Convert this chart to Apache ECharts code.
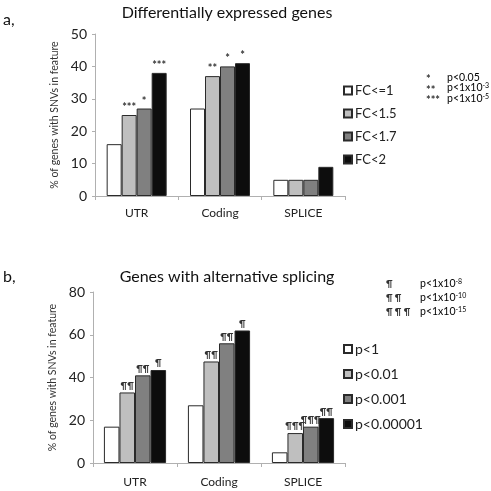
<!DOCTYPE html>
<html>
<head>
<meta charset="utf-8">
<script src="https://cdn.jsdelivr.net/npm/echarts@6/dist/echarts.min.js"></script>
<style>html,body{margin:0;padding:0;background:#fff}#c{width:491px;height:491px}</style>
</head>
<body>
<div id="c"></div>
<script>
// ---- data ----
const categories = ['UTR', 'Coding', 'SPLICE'];

const titleA = 'Differentially expressed genes';
const seriesNamesA = ['FC<=1', 'FC<1.5', 'FC<1.7', 'FC<2'];
const valuesA = [
  [16, 27, 5],
  [25, 37, 5],
  [27, 40, 5],
  [38, 41, 9]
];
const marksA = [
  ['', '', ''],
  ['***', '**', ''],
  ['*', '*', ''],
  ['***', '*', '']
];
const yTicksA = [0, 10, 20, 30, 40, 50];
const sigSymbolsA = ['*', '**', '***'];
const sigTextA = [['p<0.05', ''], ['p<1x10', '-3'], ['p<1x10', '-5']];

const titleB = 'Genes with alternative splicing';
const seriesNamesB = ['p<1', 'p<0.01', 'p<0.001', 'p<0.00001'];
const valuesB = [
  [17, 27, 5],
  [33, 47.5, 14],
  [41, 56, 17],
  [43.5, 62, 21]
];
const marksB = [
  ['', '', ''],
  ['¶¶', '¶¶', '¶¶¶'],
  ['¶¶', '¶¶', '¶¶¶'],
  ['¶', '¶', '¶¶']
];
const yTicksB = [0, 20, 40, 60, 80];
const sigSymbolsB = ['¶', '¶ ¶', '¶ ¶ ¶'];
const sigTextB = [['p<1x10', '-8'], ['p<1x10', '-10'], ['p<1x10', '-15']];

const yAxisName = '% of genes with SNVs in feature';
const colors = ['#ffffff', '#bfbfbf', '#808080', '#0d0d0d'];

// ---- chart ----
const FONT = 'Lato';
const chart = echarts.init(document.getElementById('c'), null, {renderer: 'canvas'});

function makeSeries(names, values, marks, idx, gap) {
  return names.map((n, i) => ({
    name: n,
    type: 'bar',
    xAxisIndex: idx,
    yAxisIndex: idx,
    barGap: '0%',
    barCategoryGap: gap,
    itemStyle: {color: colors[i], borderColor: '#2a2a2a', borderWidth: 1},
    label: {
      show: true,
      position: 'top',
      distance: 2,
      fontFamily: FONT,
      fontSize: idx === 0 ? 11 : 9,
      fontWeight: 'bold',
      color: '#333',
      formatter: p => marks[i][p.dataIndex]
    },
    emphasis: {disabled: true},
    data: values[i]
  }));
}

function xAx(idx) {
  return {
    type: 'category', gridIndex: idx, data: categories,
    axisLine: {lineStyle: {color: '#b0b0b0'}},
    axisTick: {show: true, length: 4, lineStyle: {color: '#b0b0b0'}},
    axisLabel: {fontFamily: FONT, fontSize: 12, color: '#222', margin: idx === 0 ? 11 : 13}
  };
}
function yAx(idx, ticks, gap) {
  return {
    type: 'value', gridIndex: idx, min: ticks[0], max: ticks[ticks.length - 1],
    interval: ticks[1] - ticks[0],
    name: yAxisName, nameLocation: 'middle', nameGap: gap, nameRotate: 90,
    nameTextStyle: {fontFamily: FONT, fontSize: 10.5, color: '#333'},
    splitLine: {show: false},
    axisLine: {show: true, lineStyle: {color: '#b0b0b0'}},
    axisTick: {show: true, length: 3, lineStyle: {color: '#b0b0b0'}},
    axisLabel: {fontFamily: FONT, fontSize: 14, color: '#222', margin: 8}
  };
}
function legend(names, top, gap, size) {
  return {
    data: names, orient: 'vertical', left: 338, top: top, itemGap: gap,
    itemWidth: 8, itemHeight: 8, icon: 'rect', selectedMode: false,
    textStyle: {fontFamily: FONT, fontSize: size, color: '#222', padding: [0, 0, 0, -2]}
  };
}
function sigGraphics(symbols, texts, x1, x2, y0, dy, bold, symSize) {
  const out = [];
  symbols.forEach((s, i) => {
    out.push({type: 'text', left: x1, top: y0 + i * dy,
      style: {text: s, font: (bold ? 'bold ' : '') + symSize + 'px ' + FONT, fill: '#333'}});
    out.push({type: 'text', left: x2, top: y0 + i * dy - 2,
      style: {
        text: '{a|' + texts[i][0] + '}{s|' + texts[i][1] + '}',
        rich: {
          a: {fontFamily: FONT, fontSize: 10.5, color: '#222', verticalAlign: 'top', lineHeight: 13},
          s: {fontFamily: FONT, fontSize: 7, color: '#222', verticalAlign: 'top', lineHeight: 7}
        }
      }});
  });
  return out;
}

const option = {
  backgroundColor: '#fff',
  animation: false,
  title: [
    {text: titleA, left: 222, top: 0, textAlign: 'center',
      textStyle: {fontFamily: FONT, fontSize: 16, fontWeight: 'normal', color: '#111'}},
    {text: titleB, left: 222, top: 264, textAlign: 'center',
      textStyle: {fontFamily: FONT, fontSize: 16, fontWeight: 'normal', color: '#111'}}
  ],
  grid: [
    {left: 95, right: 146, top: 34, bottom: 295},
    {left: 93, right: 146, top: 292, bottom: 28}
  ],
  xAxis: [xAx(0), xAx(1)],
  yAxis: [yAx(0, yTicksA, 35), yAx(1, yTicksB, 33)],
  legend: [legend(seriesNamesA, 79, 10, 13), legend(seriesNamesB, 337, 11, 14)],
  graphic: [
    {type: 'text', left: 3, top: 12, style: {text: 'a,', font: '16px ' + FONT, fill: '#111'}},
    {type: 'text', left: 3, top: 269, style: {text: 'b,', font: '16px ' + FONT, fill: '#111'}}
  ].concat(sigGraphics(sigSymbolsA, sigTextA, 426, 447, 74, 10.5, true, 11))
   .concat(sigGraphics(sigSymbolsB, sigTextB, 386, 420, 280, 14, true, 9)),
  series: makeSeries(seriesNamesA, valuesA, marksA, 0, '28%')
    .concat(makeSeries(seriesNamesB, valuesB, marksB, 1, '26%'))
};
chart.setOption(option);
</script>
</body>
</html>
